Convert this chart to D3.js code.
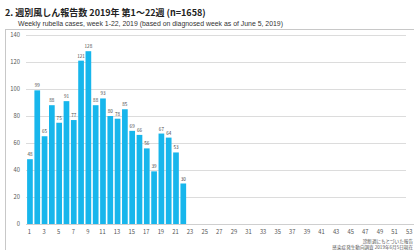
<!DOCTYPE html>
<html>
<head>
<meta charset="utf-8">
<style>
  body { margin: 0; background: #fff; }
  svg { display: block; font-family: "Noto Sans CJK JP", "Noto Sans", sans-serif; }
</style>
<script src="https://cdn.jsdelivr.net/npm/d3@7"></script>
</head>
<body>
<script>
// weekly rubella cases 2019, week 1-22
var weeks = d3.range(1, 54);
var cases = [48, 99, 65, 88, 75, 91, 77, 121, 128, 88, 93, 80, 78, 85, 69, 66, 56, 39, 67, 64, 53, 30];
var yTicks = [0, 20, 40, 60, 80, 100, 120, 140];
var xTicks = weeks.filter(function(w) { return w % 2 == 1; });

var title = "2. 週別風しん報告数 2019年 第1〜22週 (n=1658)";
var subtitle = "Weekly rubella cases, week 1-22, 2019 (based on diagnosed week as of June 5, 2019)";
var notes = ["診断週にもとづいた報告", "感染症発生動向調査 2019年6月5日現在"];

var W = 414, H = 250;

var svg = d3.select("body").append("svg")
    .attr("width", W)
    .attr("height", H);

var x = d3.scaleBand()
    .domain(weeks)
    .range([26.3, 413.3])
    .paddingInner(0.22)
    .paddingOuter(0.11);

var y = d3.scaleLinear()
    .domain([0, 140])
    .range([224, 35]);

// frame
svg.append("rect")
    .attr("x", 5.5).attr("y", 29.5)
    .attr("width", 420).attr("height", 240)
    .attr("fill", "none")
    .attr("stroke", "#c8c8c8");

// titles
svg.append("text")
    .attr("x", 5).attr("y", 16)
    .attr("font-size", 9)
    .attr("font-weight", "bold")
    .attr("fill", "#222")
    .text(title);

svg.append("text")
    .attr("x", 18).attr("y", 25.5)
    .attr("font-size", 6.9)
    .attr("fill", "#333")
    .attr("font-family", "Liberation Sans, sans-serif")
    .text(subtitle);

// grid
svg.append("g").selectAll("line")
    .data(yTicks.slice(1))
    .enter().append("line")
    .attr("x1", 26).attr("x2", 406)
    .attr("y1", d => y(d) + 0.5).attr("y2", d => y(d) + 0.5)
    .attr("stroke", "#dcdcdc");

svg.append("line")
    .attr("x1", 26).attr("x2", 414)
    .attr("y1", y(0) + 0.5).attr("y2", y(0) + 0.5)
    .attr("stroke", "#cfcfcf");

// y axis labels
svg.append("g").selectAll("text")
    .data(yTicks)
    .enter().append("text")
    .attr("x", 20)
    .attr("y", d => y(d) + 2)
    .attr("text-anchor", "end")
    .attr("font-size", 5.8)
    .attr("fill", "#555")
    .text(d => d);

// x axis labels
svg.append("g").selectAll("text")
    .data(xTicks)
    .enter().append("text")
    .attr("x", d => x(d) + x.bandwidth() / 2 - 0.5)
    .attr("y", 234)
    .attr("text-anchor", "middle")
    .attr("font-size", 5.8)
    .attr("fill", "#555")
    .text(d => d);

// bars
svg.append("g").selectAll("rect")
    .data(cases)
    .enter().append("rect")
    .attr("x", (d, i) => x(weeks[i]))
    .attr("y", d => y(d))
    .attr("width", x.bandwidth())
    .attr("height", d => y(0) - y(d))
    .attr("fill", "#17b6ec");

// value labels
svg.append("g").selectAll("text")
    .data(cases)
    .enter().append("text")
    .attr("x", (d, i) => x(weeks[i]) + x.bandwidth() / 2)
    .attr("y", d => y(d) - 3)
    .attr("text-anchor", "middle")
    .attr("font-size", 4.6)
    .attr("fill", "#444")
    .text(d => d);

// notes
svg.append("g").selectAll("text")
    .data(notes)
    .enter().append("text")
    .attr("x", 413)
    .attr("y", (d, i) => 243 + i * 5.5)
    .attr("text-anchor", "end")
    .attr("font-size", 4.6)
    .attr("fill", "#555")
    .text(d => d);
</script>
</body>
</html>
